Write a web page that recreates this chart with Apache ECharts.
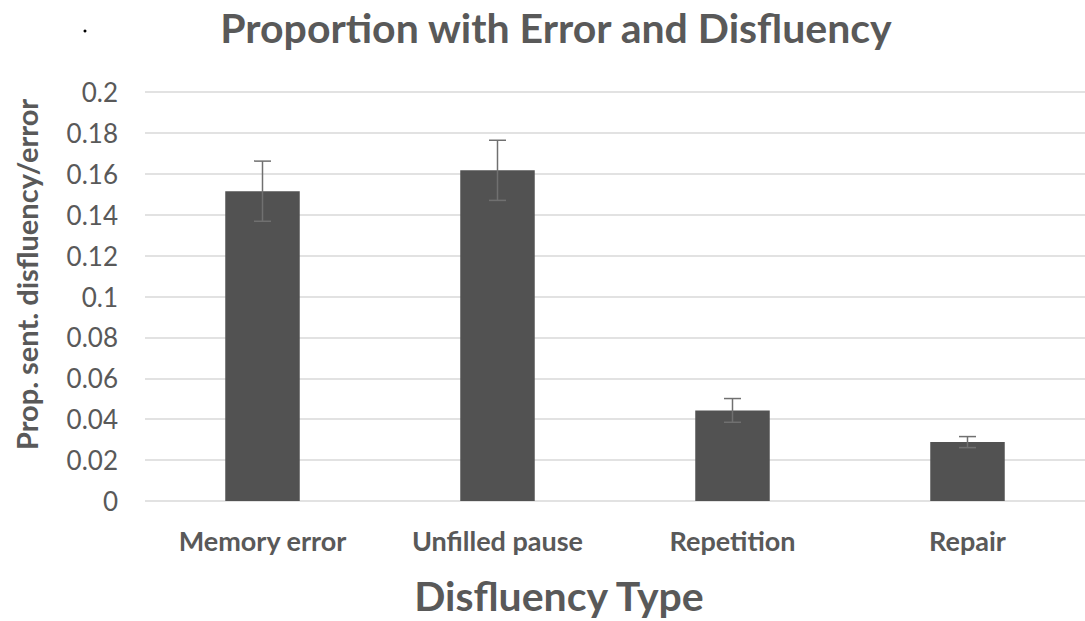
<!DOCTYPE html>
<html>
<head>
<meta charset="utf-8">
<script src="https://cdn.jsdelivr.net/npm/echarts@6/dist/echarts.min.js"></script>
<style>
  html, body { margin: 0; padding: 0; background: #fff; }
  #chart { width: 1085px; height: 621px; }
</style>
</head>
<body>
<div id="chart"></div>
<script>
const chart = echarts.init(document.getElementById('chart'), null, { renderer: 'svg' });

// data
const categories = ['Memory error', 'Unfilled pause', 'Repetition', 'Repair'];
const proportions = [0.1515, 0.1617, 0.0443, 0.0288];
const errors = [0.0147, 0.0147, 0.0058, 0.0027];
const yTicks = [0, 0.02, 0.04, 0.06, 0.08, 0.1, 0.12, 0.14, 0.16, 0.18, 0.2];

const errorData = proportions.map((v, i) => [i, v - errors[i], v + errors[i]]);

const textGray = '#595959';

chart.setOption({
    animation: false,
    title: {
        text: 'Proportion with Error and Disfluency',
        left: 551,
        top: 2,
        textAlign: 'center',
        textStyle: {
            fontFamily: 'Lato',
            fontWeight: 'bold',
            fontSize: 41,
            color: textGray
        }
    },
    grid: {
        left: 145,
        top: 92,
        width: 946,
        height: 413
    },
    xAxis: {
        type: 'category',
        data: categories,
        name: 'Disfluency Type',
        nameLocation: 'middle',
        nameGap: 74,
        nameTextStyle: {
            fontFamily: 'Lato',
            fontWeight: 'bold',
            fontSize: 41,
            color: textGray,
            padding: [0, 112, 0, 0]
        },
        axisLine: { show: false },
        axisTick: { show: false },
        axisLabel: {
            margin: 26,
            fontFamily: 'Lato',
            fontWeight: 'bold',
            fontSize: 27,
            color: textGray
        }
    },
    yAxis: {
        type: 'value',
        min: 0,
        max: 0.2,
        interval: 0.02,
        name: 'Prop. sent. disfluency/error',
        nameLocation: 'middle',
        nameGap: 104,
        nameTextStyle: {
            fontFamily: 'Lato',
            fontWeight: 'bold',
            fontSize: 29,
            color: textGray,
            padding: [0, 0, 0, 44]
        },
        axisLine: { show: false },
        axisTick: { show: false },
        splitLine: { lineStyle: { color: '#d9d9d9', width: 1.5 } },
        axisLabel: {
            margin: 27,
            fontFamily: 'Lato',
            fontSize: 26,
            color: textGray,
            formatter: v => String(yTicks.find(t => Math.abs(t - v) < 1e-9) ?? +v.toFixed(2))
        }
    },
    series: [
        {
            type: 'bar',
            data: proportions,
            barWidth: '31.7%',
            itemStyle: { color: '#525252' }
        },
        {
            type: 'custom',
            data: errorData,
            encode: { x: 0, y: [1, 2] },
            z: 10,
            renderItem: function (params, api) {
                const lo = api.coord([api.value(0), api.value(1)]);
                const hi = api.coord([api.value(0), api.value(2)]);
                const half = 8.5;
                const style = { stroke: '#707070', lineWidth: 1.5 };
                return {
                    type: 'group',
                    children: [
                        { type: 'line', shape: { x1: hi[0], y1: hi[1], x2: lo[0], y2: lo[1] }, style: style },
                        { type: 'line', shape: { x1: hi[0] - half, y1: hi[1], x2: hi[0] + half, y2: hi[1] }, style: style },
                        { type: 'line', shape: { x1: lo[0] - half, y1: lo[1], x2: lo[0] + half, y2: lo[1] }, style: style }
                    ]
                };
            }
        }
    ],
    graphic: [
        { type: 'circle', shape: { cx: 85, cy: 31, r: 1.5 }, style: { fill: '#000' } }
    ]
});
</script>
</body>
</html>
